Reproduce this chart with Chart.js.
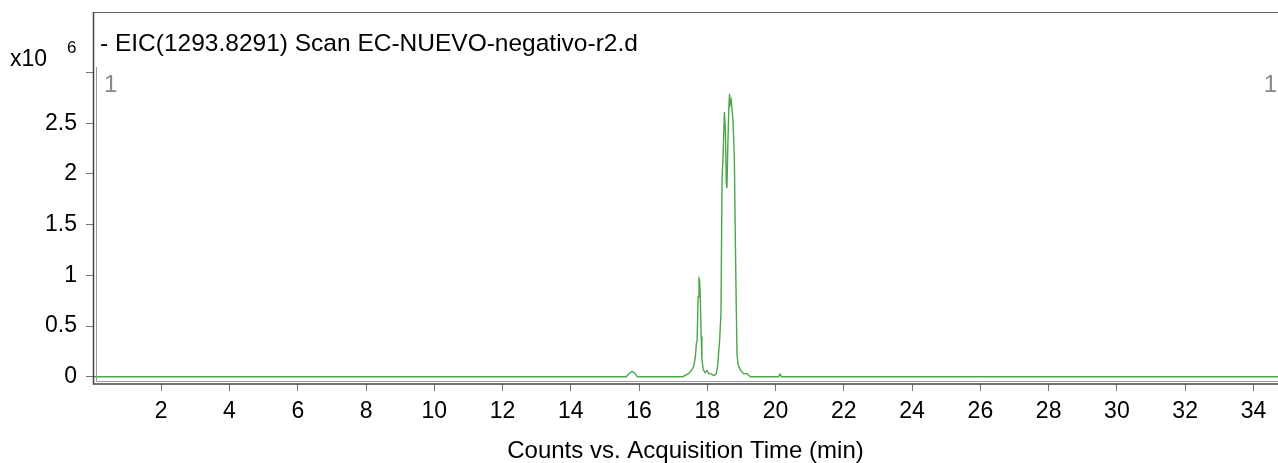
<!DOCTYPE html>
<html>
<head>
<meta charset="utf-8">
<script src="https://cdn.jsdelivr.net/npm/chart.js@4"></script>
<style>
  html, body { margin: 0; padding: 0; background: #fff; }
  #wrap { width: 1278px; height: 463px; position: relative; }
</style>
</head>
<body>
<div id="wrap"><canvas id="eic"></canvas></div>
<script>
// retention time (min) and counts (x10^6)
const times = [0, 15.62, 15.7, 15.79, 15.86, 15.95, 17.28, 17.45, 17.55, 17.6, 17.65, 17.68, 17.7, 17.73, 17.755, 17.77, 17.79, 17.82, 17.84, 17.88, 17.93, 17.99, 18.04, 18.09, 18.2, 18.26, 18.3, 18.33, 18.36, 18.4, 18.43, 18.46, 18.5, 18.53, 18.555, 18.575, 18.6, 18.63, 18.65, 18.67, 18.7, 18.72, 18.75, 18.79, 18.82, 18.85, 18.87, 18.9, 18.96, 19.06, 19.16, 19.26, 20.09, 20.13, 20.17, 34.72];
const counts = [0, 0, 0.03, 0.05, 0.04, 0, 0, 0.03, 0.07, 0.1, 0.2, 0.33, 0.35, 0.79, 0.97, 0.96, 0.83, 0.4, 0.17, 0.07, 0.04, 0.06, 0.03, 0.03, 0.01, 0.03, 0.1, 0.23, 0.36, 0.63, 1.94, 2.17, 2.61, 2.43, 1.91, 1.86, 2.27, 2.66, 2.79, 2.69, 2.73, 2.73, 2.53, 2.18, 1.35, 0.63, 0.22, 0.12, 0.07, 0.03, 0.03, 0, 0, 0.025, 0, 0];

const xTicks = [2, 4, 6, 8, 10, 12, 14, 16, 18, 20, 22, 24, 26, 28, 30, 32, 34];
const yTicks = [0, 0.5, 1, 1.5, 2, 2.5, 3];
const yTickLabels = ['0', '0.5', '1', '1.5', '2', '2.5', ''];

const titleText = '- EIC(1293.8291) Scan EC-NUEVO-negativo-r2.d';
const FONT = '"Liberation Sans", Arial, sans-serif';

// frame + header texts
const decor = {
  id: 'decor',
  afterDraw(chart) {
    const { ctx, chartArea: a } = chart;
    ctx.save();
    // top
    ctx.strokeStyle = '#666';
    ctx.lineWidth = 1;
    ctx.beginPath();
    ctx.moveTo(a.left, a.top + 0.5);
    ctx.lineTo(a.right, a.top + 0.5);
    ctx.stroke();
    // outer left/bottom
    ctx.strokeStyle = '#444';
    ctx.lineWidth = 1.5;
    ctx.beginPath();
    ctx.moveTo(a.left + 0.5, a.top);
    ctx.lineTo(a.left + 0.5, a.bottom);
    ctx.lineTo(a.right, a.bottom);
    ctx.stroke();
    // inner left/bottom
    ctx.strokeStyle = '#999';
    ctx.lineWidth = 1;
    ctx.beginPath();
    ctx.moveTo(a.left + 3.5, a.top + 55);
    ctx.lineTo(a.left + 3.5, a.bottom - 2.5);
    ctx.lineTo(a.right, a.bottom - 2.5);
    ctx.stroke();

    ctx.fillStyle = '#000';
    ctx.textBaseline = 'alphabetic';
    ctx.textAlign = 'left';
    ctx.font = '24.5px ' + FONT;
    ctx.fillText(titleText, a.left + 7, 51);
    ctx.font = '23px ' + FONT;
    ctx.fillText('x10', 10, 66);
    ctx.font = '17px ' + FONT;
    ctx.fillText('6', 67, 53);

    ctx.fillStyle = '#888';
    ctx.font = '24px ' + FONT;
    ctx.fillText('1', a.left + 11, 92);
    ctx.textAlign = 'right';
    ctx.fillText('1', a.right - 1, 92);
    ctx.restore();
  }
};

new Chart(document.getElementById('eic'), {
  type: 'line',
  data: {
    datasets: [{
      data: times.map((t, i) => ({ x: t, y: counts[i] })),
      borderColor: '#4aa84a',
      borderWidth: 1.4,
      pointRadius: 0,
      tension: 0,
      fill: false
    }]
  },
  options: {
    responsive: true,
    maintainAspectRatio: false,
    animation: false,
    layout: { padding: { top: 12, right: 0, left: 0, bottom: 0 } },
    plugins: { legend: { display: false }, tooltip: { enabled: false } },
    scales: {
      x: {
        type: 'linear',
        min: 0,
        max: 34.72,
        afterBuildTicks: s => { s.ticks = xTicks.map(v => ({ value: v })); },
        afterFit: s => { s.height = 79; s.paddingLeft = 0; s.paddingRight = 0; },
        border: { display: false },
        grid: { drawOnChartArea: false, drawTicks: true, tickLength: 7, tickColor: '#777' },
        ticks: { color: '#000', padding: 7, maxRotation: 0, font: { family: FONT, size: 23 }, callback: v => String(v) },
        title: { display: true, text: 'Counts vs. Acquisition Time (min)', color: '#000', padding: { top: 0, bottom: 0 }, font: { family: FONT, size: 24, lineHeight: 1 } }
      },
      y: {
        min: -0.072,
        max: 3.598,
        afterBuildTicks: s => { s.ticks = yTicks.map(v => ({ value: v })); },
        afterFit: s => { s.width = 93; s.paddingTop = 0; s.paddingBottom = 0; },
        border: { display: false },
        grid: { drawOnChartArea: false, drawTicks: true, tickLength: 7, tickColor: '#777' },
        ticks: { color: '#000', padding: 9, font: { family: FONT, size: 23 }, callback: (v, i) => yTickLabels[i] }
      }
    }
  },
  plugins: [decor]
});
</script>
</body>
</html>
